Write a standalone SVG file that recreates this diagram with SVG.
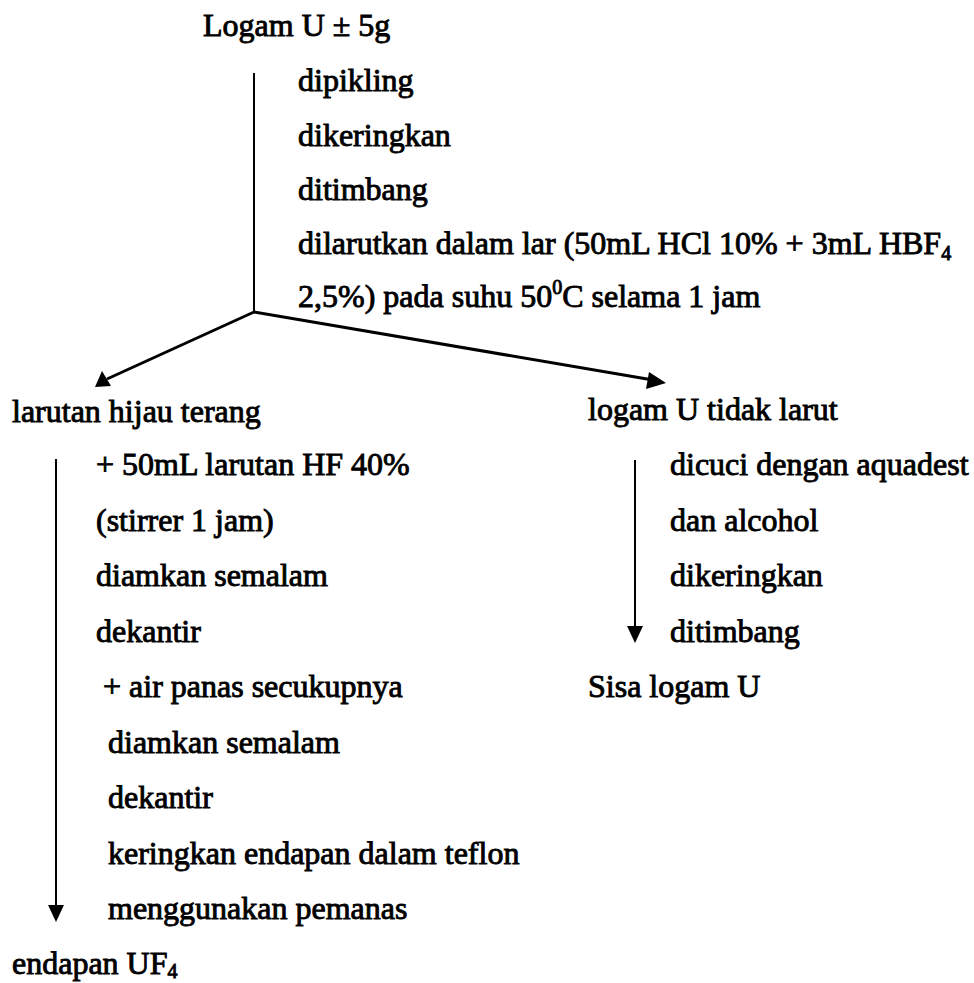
<svg xmlns="http://www.w3.org/2000/svg" width="974" height="983" viewBox="0 0 974 983">
<style>
text{font-family:"Liberation Serif","Times New Roman",serif;font-size:32px;fill:#000;stroke:#000;stroke-width:0.9}
.sub{font-size:20px}
.ln{stroke:#000;stroke-width:2;fill:none}
.dg{stroke:#000;stroke-width:3;fill:none}
</style>
<rect width="974" height="983" fill="#fff"/>
<g id="connectors">
<line class="ln" x1="254" y1="73" x2="254" y2="312"/>
<line class="dg" x1="254" y1="312" x2="107" y2="379"/>
<polygon points="95,387 102,371 111,386" fill="#000"/>
<line class="dg" x1="254" y1="312" x2="653" y2="380"/>
<polygon points="666,383 649,372 646,389" fill="#000"/>
<line class="ln" x1="56" y1="459" x2="56" y2="908"/>
<polygon points="48,905 64,905 56,922" fill="#000"/>
<line class="ln" x1="635" y1="460" x2="635" y2="628"/>
<polygon points="627,626 643,626 635,643" fill="#000"/>
</g>
<g id="node-start"><text x="203" y="36">Logam U ± 5g</text></g>
<g id="node-steps1">
<text x="298" y="91">dipikling</text>
<text x="298" y="146">dikeringkan</text>
<text x="298" y="200">ditimbang</text>
<text x="298" y="254">dilarutkan dalam lar (50mL HCl 10% + 3mL HBF<tspan class="sub" dy="6">4</tspan></text>
<text x="298" y="307">2,5%) pada suhu 50<tspan class="sub" dy="-13">0</tspan><tspan dy="13">C selama 1 jam</tspan></text>
</g>
<g id="node-larutan"><text x="12" y="422">larutan hijau terang</text></g>
<g id="node-logam"><text x="588" y="420">logam U tidak larut</text></g>
<g id="node-steps-left">
<text x="96" y="475">+ 50mL larutan HF 40%</text>
<text x="96" y="530.5">(stirrer 1 jam)</text>
<text x="96" y="586">diamkan semalam</text>
<text x="96" y="641.5">dekantir</text>
<text x="103" y="697">+ air panas secukupnya</text>
<text x="108" y="752.5">diamkan semalam</text>
<text x="108" y="808">dekantir</text>
<text x="108" y="863.5">keringkan endapan dalam teflon</text>
<text x="108" y="919">menggunakan pemanas</text>
</g>
<g id="node-endapan"><text x="12" y="974">endapan UF<tspan class="sub" dy="4">4</tspan></text></g>
<g id="node-steps-right">
<text x="670" y="475">dicuci dengan aquadest</text>
<text x="670" y="530.5">dan alcohol</text>
<text x="670" y="586">dikeringkan</text>
<text x="670" y="641.5">ditimbang</text>
</g>
<g id="node-sisa"><text x="588" y="697">Sisa logam U</text></g>
</svg>
